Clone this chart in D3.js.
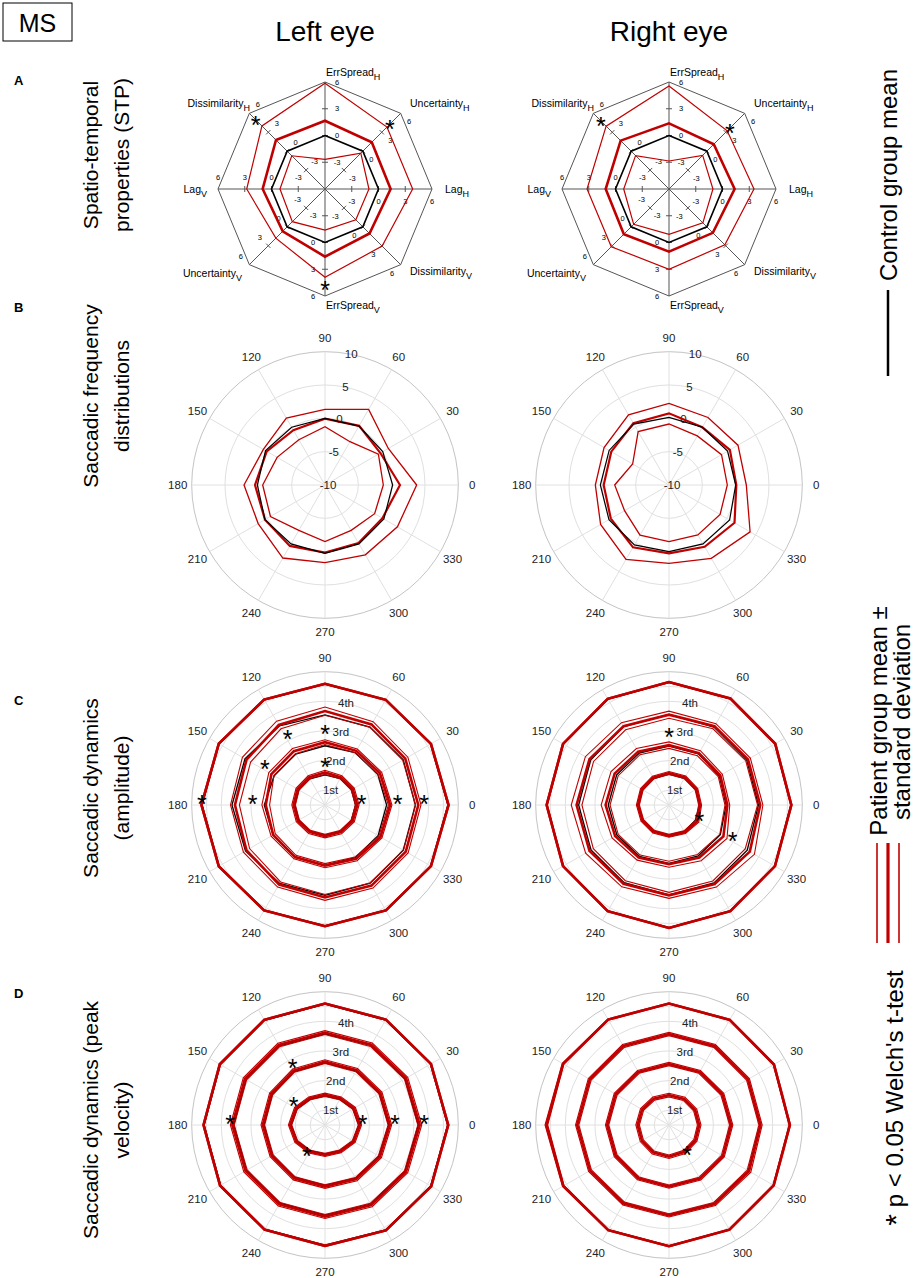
<!DOCTYPE html>
<html>
<head>
  <meta charset="utf-8">
  <script src="https://d3js.org/d3.v7.min.js"></script>
  <style>
    body { margin:0; background:#fff; }
    text { font-family: "Liberation Sans", Arial, Helvetica, sans-serif; fill:#000; }
  </style>
</head>
<body>
  <script>
    // ---- panel A : spatio-temporal properties (z-scores) ----
    var stpNames  = ["ErrSpread","Uncertainty","Lag","Dissimilarity","ErrSpread","Uncertainty","Lag","Dissimilarity"];
    var stpSubs   = ["H","H","H","V","V","V","V","H"];
    var stpAngles = [90, 45, 0, -45, -90, -135, 180, 135];
    var stpTicks  = [-3, 0, 3, 6];

    var stpLeftCtrl  = [0, 0, 0, 0, 0, 0, 0, 0];
    var stpLeftMean  = [1.66, 1.42, 1.36, 1.06, 1.59, 0.7, 0.99, 1.77];
    var stpLeftHi    = [5.85, 3.83, 3.83, 3.06, 3.9, 1.8, 2.78, 4.0];
    var stpLeftLo    = [-2.67, -0.32, -1.07, -1.11, -1.4, -0.82, -0.95, -0.73];
    var stpLeftStars = [[7, 5.0], [1, 4.3], [4, 4.75]];

    var stpRightCtrl  = [0, 0, 0, 0, 0, 0, 0, 0];
    var stpRightMean  = [1.36, 1.1, 1.36, 0.95, 1.03, 1.16, 1.1, 1.67];
    var stpRightHi    = [5.55, 3.23, 3.53, 2.86, 3.0, 3.15, 3.19, 3.97];
    var stpRightLo    = [-2.86, -0.66, -1.07, -0.63, -0.92, -0.4, -0.92, -0.7];
    var stpRightStars = [[7, 4.8], [1, 3.65]];

    // ---- shared polar directions (deg) ----
    var dirAngles = [0, 30, 60, 90, 120, 150, 180, 210, 240, 270, 300, 330];

    // ---- panel B : saccadic frequency distributions ----
    var freqTicks = [-10, -5, 0, 5, 10];
    var freqLeftCtrl = [0.15, 0.0, 0.2, 0.0, 0.0, 0.3, 0.15, 0.4, 0.2, 0.25, 0.2, 0.2];
    var freqLeftMean = [1.25, -0.4, 0.25, -0.05, -0.5, 0.1, 0.5, 0.4, 0.55, 0.15, 0.05, -0.05];
    var freqLeftHi   = [3.75, 0.97, 3.1, 1.35, 1.6, 0.68, 2.15, 1.58, 2.65, 1.65, 2.1, 2.55];
    var freqLeftLo   = [-1.25, -0.75, -2.5, -1.25, -2.15, -1.7, -0.65, -0.55, -2.15, -1.5, -2.15, -1.4];

    var freqRightCtrl = [0.0, 0.15, 0.0, 0.15, 0.55, 0.37, 0.3, 0.4, 0.37, 0.0, 0.2, 0.5];
    var freqRightMean = [0.1, 0.55, 0.0, 0.75, 0.7, 0.0, -0.2, 0.08, 0.8, 0.25, 0.7, 1.35];
    var freqRightHi   = [1.6, 1.95, 1.7, 2.25, 2.15, 1.25, 1.05, 1.85, 2.9, 1.75, 2.7, 4.05];
    var freqRightLo   = [-1.25, -0.9, -1.5, -0.85, -0.75, -3.7, -1.85, -2.3, -1.3, -1.5, -1.35, -1.15];

    // ---- panels C/D : saccadic dynamics, one row per quartile ----
    var quartileTicks  = [0.5, 1.5, 2.5, 3.5];
    var quartileLabels = ["1st", "2nd", "3rd", "4th"];
    var dynGrid = [0.5, 1, 1.5, 2, 2.5, 3, 3.5, 4, 4.5];

    var ampLeftCtrl = [
      [1.03,1.03,1.03,1.02,1.02,1.02,1.02,1.02,1.02,1.02,1.03,1.03],
      [2.08,2.06,2.04,2.0,1.98,1.98,2.05,2.02,2.02,2.03,2.05,2.07],
      [3.05,3.05,3.04,3.04,3.08,3.12,3.14,3.1,3.06,3.05,3.05,3.05],
      [4.15,4.12,4.1,4.08,4.1,4.13,4.15,4.13,4.1,4.08,4.1,4.12]];
    var ampLeftMean = [
      [1.09,1.08,1.08,1.1,1.08,1.07,1.06,1.06,1.05,1.05,1.06,1.08],
      [2.2,2.14,2.11,2.12,2.1,2.09,2.0,2.02,2.03,2.05,2.1,2.16],
      [3.15,3.13,3.14,3.17,3.12,3.06,3.04,3.06,3.1,3.12,3.14,3.15],
      [4.17,4.13,4.1,4.09,4.11,4.14,4.17,4.14,4.11,4.09,4.11,4.13]];
    var ampLeftSd = [
      [0.06,0.06,0.06,0.07,0.06,0.06,0.06,0.06,0.06,0.06,0.06,0.06],
      [0.06,0.07,0.07,0.08,0.1,0.1,0.13,0.08,0.07,0.07,0.07,0.06],
      [0.09,0.1,0.11,0.14,0.15,0.16,0.15,0.12,0.1,0.1,0.1,0.09],
      [0.025,0.025,0.025,0.025,0.025,0.025,0.025,0.025,0.025,0.025,0.025,0.025]];
    var ampLeftStars = [[90,2.36],[120,2.53],[150,2.34],[180,2.44],[90,1.24],[0,1.24],[0,2.45],[0,3.35],[180,4.16]];

    var ampRightCtrl = [
      [1.03,1.04,1.04,1.04,1.03,1.03,1.03,1.02,1.02,1.02,1.03,1.03],
      [1.93,1.96,1.99,1.99,2.02,2.04,2.05,2.03,2.0,1.97,1.98,2.0],
      [3.02,3.03,3.04,3.06,3.06,3.05,3.05,3.04,3.03,3.03,3.04,3.05],
      [4.12,4.13,4.14,4.14,4.13,4.12,4.12,4.12,4.13,4.14,4.13,4.12]];
    var ampRightMean = [
      [1.05,1.07,1.08,1.08,1.07,1.06,1.05,1.04,1.04,1.04,1.06,1.1],
      [1.97,2.0,2.02,2.02,2.08,2.12,2.14,2.1,2.05,2.0,2.05,2.12],
      [3.08,3.08,3.07,3.05,3.07,3.1,3.12,3.1,3.07,3.05,3.08,3.15],
      [4.13,4.14,4.15,4.15,4.14,4.13,4.13,4.13,4.14,4.15,4.14,4.13]];
    var ampRightSd = [
      [0.05,0.05,0.05,0.05,0.05,0.05,0.05,0.05,0.05,0.05,0.05,0.06],
      [0.08,0.08,0.1,0.11,0.12,0.14,0.15,0.12,0.1,0.1,0.12,0.14],
      [0.09,0.09,0.1,0.12,0.14,0.16,0.18,0.15,0.12,0.1,0.12,0.18],
      [0.025,0.025,0.025,0.025,0.025,0.025,0.025,0.025,0.025,0.025,0.025,0.025]];
    var ampRightStars = [[90,2.27],[330,1.18],[330,2.48]];

    var velLeftCtrl = [
      [1.14,1.09,1.0,0.98,1.0,1.09,1.14,1.09,1.0,0.98,1.0,1.09],
      [2.15,2.12,2.1,2.1,2.08,2.06,2.06,2.05,2.04,2.04,2.07,2.1],
      [3.15,3.12,3.1,3.08,3.08,3.08,3.08,3.06,3.05,3.05,3.08,3.12],
      [4.14,4.11,4.09,4.08,4.08,4.08,4.08,4.07,4.06,4.06,4.09,4.12]];
    var velLeftMean = [
      [1.18,1.13,1.04,1.02,1.04,1.13,1.18,1.12,1.04,1.01,1.03,1.12],
      [2.19,2.16,2.14,2.14,2.12,2.1,2.1,2.08,2.08,2.08,2.11,2.14],
      [3.2,3.16,3.13,3.12,3.12,3.12,3.13,3.1,3.09,3.09,3.12,3.16],
      [4.16,4.13,4.11,4.1,4.1,4.1,4.1,4.09,4.08,4.08,4.11,4.14]];
    var velLeftSd = [
      [0.055,0.055,0.055,0.055,0.055,0.055,0.055,0.055,0.055,0.055,0.055,0.055],
      [0.06,0.06,0.06,0.06,0.06,0.06,0.06,0.06,0.06,0.06,0.06,0.06],
      [0.065,0.065,0.065,0.065,0.065,0.065,0.065,0.065,0.065,0.065,0.065,0.065],
      [0.025,0.025,0.025,0.025,0.025,0.025,0.025,0.025,0.025,0.025,0.025,0.025]];
    var velLeftStars = [[120,2.18],[150,1.22],[180,3.2],[0,1.27],[0,2.36],[0,3.35],[240,1.23]];

    var velRightCtrl = [
      [1.0,1.0,1.0,1.0,1.02,1.04,1.04,1.05,1.06,1.06,1.04,1.02],
      [2.08,2.07,2.06,2.05,2.06,2.07,2.07,2.07,2.07,2.07,2.08,2.1],
      [3.07,3.07,3.06,3.06,3.07,3.08,3.09,3.07,3.04,3.03,3.06,3.09],
      [4.07,4.08,4.09,4.1,4.11,4.12,4.13,4.11,4.09,4.08,4.08,4.07]];
    var velRightMean = [
      [1.02,1.02,1.02,1.01,1.03,1.05,1.06,1.06,1.07,1.07,1.05,1.03],
      [2.1,2.08,2.07,2.06,2.07,2.08,2.09,2.08,2.08,2.08,2.09,2.1],
      [3.09,3.08,3.08,3.07,3.08,3.09,3.1,3.08,3.06,3.05,3.08,3.12],
      [4.08,4.09,4.1,4.1,4.11,4.13,4.14,4.12,4.1,4.09,4.08,4.08]];
    var velRightSd = [
      [0.06,0.06,0.06,0.06,0.06,0.06,0.06,0.06,0.06,0.06,0.06,0.06],
      [0.055,0.055,0.055,0.055,0.055,0.055,0.055,0.055,0.055,0.055,0.055,0.055],
      [0.055,0.055,0.055,0.055,0.055,0.055,0.055,0.055,0.055,0.055,0.06,0.07],
      [0.025,0.025,0.025,0.025,0.025,0.03,0.045,0.03,0.025,0.025,0.025,0.025]];
    var velRightStars = [[300,1.22]];

    // ---- layout ----
    var red = "#c00000";
    var colX = [325, 669];
    var stpLabelPos = [[1,-113,"start"],[85,-82,"start"],[120,4,"start"],[85,86,"start"],
                       [1,120,"start"],[-83,88,"end"],[-118,4,"end"],[-75,-82,"end"]];

    var svg = d3.select("body").append("svg")
        .attr("width", 914)
        .attr("height", 1278);

    var rad = a => a * Math.PI / 180;

    function closedLine(scale, angles) {
      return d3.lineRadial()
          .angle((d, i) => rad(90 - angles[i]))
          .radius(d => scale(d))
          .curve(d3.curveLinearClosed);
    }

    function drawStar(g, x, y, raise) {
      g.append("text")
          .attr("x", x)
          .attr("y", y - raise + 0.56 * 25)
          .attr("text-anchor", "middle")
          .style("font-size", "25px")
          .text("*");
    }

    function drawStp(cx, cy, ctrl, mean, hi, lo, stars) {
      var r = d3.scaleLinear().domain([-6, 6]).range([0, 107]);
      var line = closedLine(r, stpAngles);
      var g = svg.append("g").attr("transform", "translate(" + cx + "," + cy + ")");

      g.append("path").attr("d", line(stpAngles.map(() => 6)))
          .attr("fill", "none").attr("stroke", "#555").attr("stroke-width", 1);

      stpAngles.forEach((a, i) => {
        var ux = Math.cos(rad(a)), uy = -Math.sin(rad(a));
        var px = Math.sin(rad(a)), py = Math.cos(rad(a));
        g.append("line")
            .attr("x1", 0).attr("y1", 0)
            .attr("x2", ux * r(6)).attr("y2", uy * r(6))
            .attr("stroke", "#555").attr("stroke-width", 1);
        stpTicks.forEach(v => {
          if (v < 6) {
            g.append("line")
                .attr("x1", ux * r(v) - px * 3).attr("y1", uy * r(v) - py * 3)
                .attr("x2", ux * r(v) + px * 3).attr("y2", uy * r(v) + py * 3)
                .attr("stroke", "#555").attr("stroke-width", 1);
          }
          g.append("text")
              .attr("x", ux * r(v) + px * 12)
              .attr("y", uy * r(v) + py * 12)
              .attr("text-anchor", "middle")
              .attr("dominant-baseline", "central")
              .style("font-size", "7.5px")
              .text(v);
        });
        var t = g.append("text")
            .attr("x", stpLabelPos[i][0])
            .attr("y", stpLabelPos[i][1])
            .attr("text-anchor", stpLabelPos[i][2])
            .style("font-size", "10.5px")
            .text(stpNames[i]);
        t.append("tspan").attr("dy", 4).style("font-size", "9px").text(stpSubs[i]);
      });

      g.append("path").attr("d", line(ctrl))
          .attr("fill", "none").attr("stroke", "#000").attr("stroke-width", 1.6);
      [hi, lo].forEach(s => {
        g.append("path").attr("d", line(s))
            .attr("fill", "none").attr("stroke", red).attr("stroke-width", 1.2);
      });
      g.append("path").attr("d", line(mean))
          .attr("fill", "none").attr("stroke", red).attr("stroke-width", 2.6);

      stars.forEach(s => {
        var a = rad(stpAngles[s[0]]);
        drawStar(g, Math.cos(a) * r(s[1]), -Math.sin(a) * r(s[1]), 0);
      });
    }

    function polarGrid(g, r, circles, outerVal, rTicks, rText) {
      circles.forEach((c, i) => {
        g.append("circle").attr("r", r(c))
            .attr("fill", "none")
            .attr("stroke", i === circles.length - 1 ? "#c4c4c4" : "#e0e0e0")
            .attr("stroke-width", 1);
      });
      dirAngles.forEach(a => {
        g.append("line")
            .attr("x1", 0).attr("y1", 0)
            .attr("x2", Math.cos(rad(a)) * r(outerVal))
            .attr("y2", -Math.sin(rad(a)) * r(outerVal))
            .attr("stroke", "#e0e0e0").attr("stroke-width", 1);
        g.append("text")
            .attr("x", Math.cos(rad(a)) * (r(outerVal) + 14))
            .attr("y", -Math.sin(rad(a)) * (r(outerVal) + 14))
            .attr("text-anchor", "middle")
            .attr("dominant-baseline", "central")
            .style("font-size", "11.5px")
            .style("fill", "#222")
            .text(a);
      });
      rTicks.forEach((v, i) => {
        g.append("text")
            .attr("x", Math.cos(rad(80)) * r(v) + 3)
            .attr("y", -Math.sin(rad(80)) * r(v))
            .attr("text-anchor", "middle")
            .attr("dominant-baseline", "central")
            .style("font-size", "11.5px")
            .style("fill", "#222")
            .text(rText[i]);
      });
    }

    function drawFreq(cx, cy, ctrl, mean, hi, lo) {
      var r = d3.scaleLinear().domain([-10, 10]).range([0, 133.3]);
      var line = closedLine(r, dirAngles);
      var g = svg.append("g").attr("transform", "translate(" + cx + "," + cy + ")");
      polarGrid(g, r, [-5, 0, 5, 10], 10, freqTicks, freqTicks);
      [hi, lo].forEach(s => {
        g.append("path").attr("d", line(s))
            .attr("fill", "none").attr("stroke", red).attr("stroke-width", 1.3);
      });
      g.append("path").attr("d", line(mean))
          .attr("fill", "none").attr("stroke", red).attr("stroke-width", 2.2);
      g.append("path").attr("d", line(ctrl))
          .attr("fill", "none").attr("stroke", "#000").attr("stroke-width", 1.2);
    }

    function drawDyn(cx, cy, ctrl, mean, sd, stars) {
      var r = d3.scaleLinear().domain([0, 4.5]).range([0, 133.3]);
      var line = closedLine(r, dirAngles);
      var g = svg.append("g").attr("transform", "translate(" + cx + "," + cy + ")");
      polarGrid(g, r, dynGrid, 4.5, quartileTicks, quartileLabels);
      mean.forEach((m, q) => {
        g.append("path").attr("d", line(ctrl[q]))
            .attr("fill", "none").attr("stroke", "#000").attr("stroke-width", 1.3);
        [1, -1].forEach(sign => {
          g.append("path").attr("d", line(m.map((v, i) => v + sign * sd[q][i])))
              .attr("fill", "none").attr("stroke", red).attr("stroke-width", 1.1);
        });
        g.append("path").attr("d", line(m))
            .attr("fill", "none").attr("stroke", red).attr("stroke-width", 2.6);
      });
      stars.forEach(s => {
        var a = rad(s[0]);
        drawStar(g, Math.cos(a) * r(s[1]), -Math.sin(a) * r(s[1]), 6);
      });
    }

    drawStp(colX[0], 189, stpLeftCtrl, stpLeftMean, stpLeftHi, stpLeftLo, stpLeftStars);
    drawStp(colX[1], 189, stpRightCtrl, stpRightMean, stpRightHi, stpRightLo, stpRightStars);
    drawFreq(colX[0], 485, freqLeftCtrl, freqLeftMean, freqLeftHi, freqLeftLo);
    drawFreq(colX[1], 485, freqRightCtrl, freqRightMean, freqRightHi, freqRightLo);
    drawDyn(colX[0], 805, ampLeftCtrl, ampLeftMean, ampLeftSd, ampLeftStars);
    drawDyn(colX[1], 805, ampRightCtrl, ampRightMean, ampRightSd, ampRightStars);
    drawDyn(colX[0], 1125, velLeftCtrl, velLeftMean, velLeftSd, velLeftStars);
    drawDyn(colX[1], 1125, velRightCtrl, velRightMean, velRightSd, velRightStars);

    // ---- titles and labels ----
    svg.append("rect").attr("x", 3).attr("y", 3).attr("width", 69).attr("height", 38)
        .attr("fill", "none").attr("stroke", "#000").attr("stroke-width", 1);
    svg.append("text").attr("x", 37.5).attr("y", 32).attr("text-anchor", "middle")
        .style("font-size", "25px").text("MS");

    ["Left eye", "Right eye"].forEach((t, i) => {
      svg.append("text").attr("x", colX[i]).attr("y", 41).attr("text-anchor", "middle")
          .style("font-size", "28px").text(t);
    });

    var rowLetters = [["A", 85], ["B", 312], ["C", 705], ["D", 998]];
    rowLetters.forEach(d => {
      svg.append("text").attr("x", 14).attr("y", d[1])
          .style("font-size", "13px").style("font-weight", "bold").text(d[0]);
    });

    var rowTitles = [
      [["Spatio-temporal", "properties (STP)"], 155],
      [["Saccadic frequency", "distributions"], 396],
      [["Saccadic dynamics", "(amplitude)"], 788],
      [["Saccadic dynamics (peak", "velocity)"], 1120]];
    rowTitles.forEach(d => {
      d[0].forEach((t, j) => {
        svg.append("text")
            .attr("transform", "translate(" + (98 + j * 31) + "," + d[1] + ") rotate(-90)")
            .attr("text-anchor", "middle")
            .style("font-size", "21px")
            .text(t);
      });
    });

    // ---- legend (right column) ----
    function vText(x, y, t) {
      return svg.append("text")
          .attr("transform", "translate(" + x + "," + y + ") rotate(-90)")
          .attr("text-anchor", "middle")
          .style("font-size", "24px")
          .text(t);
    }
    vText(897, 175, "Control group mean");
    svg.append("line").attr("x1", 888).attr("x2", 888).attr("y1", 290).attr("y2", 376)
        .attr("stroke", "#000").attr("stroke-width", 2.5);
    vText(887, 721, "Patient group mean \u00b1");
    vText(910, 722, "standard deviation");
    [[877, 1.6], [888, 3.2], [899, 1.6]].forEach(d => {
      svg.append("line").attr("x1", d[0]).attr("x2", d[0]).attr("y1", 843).attr("y2", 943)
          .attr("stroke", red).attr("stroke-width", d[1]);
    });
    var pText = vText(903, 1098, "");
    pText.append("tspan").style("font-size", "30px").attr("dy", 3).text("*");
    pText.append("tspan").attr("dy", -3).text(" p < 0.05 Welch's t-test");
  </script>
</body>
</html>
